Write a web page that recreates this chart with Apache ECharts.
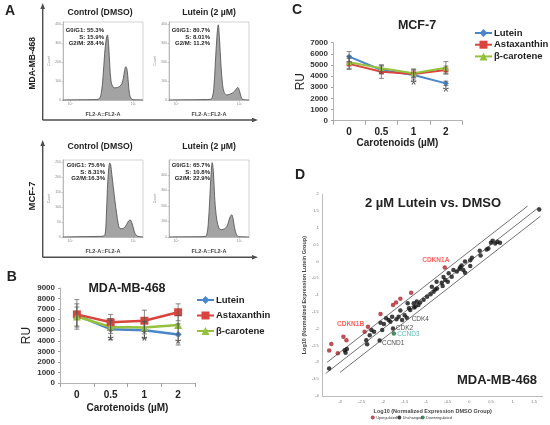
<!DOCTYPE html>
<html>
<head>
<meta charset="utf-8">
<script src="https://cdn.jsdelivr.net/npm/echarts@6/dist/echarts.min.js"></script>
<style>
  html, body { margin: 0; padding: 0; background: #fff; }
  #main { width: 550px; height: 425px; }
</style>
</head>
<body>
<div id="main"></div>
<script>
/* ---- data ---- */
var doses = ['0', '0.5', '1', '2'];
var names = ['Lutein', 'Astaxanthin', 'β-carotene'];

// B  MDA-MB-468
var mdaLutein = [6400, 5100, 5000, 4600];
var mdaAstax = [6500, 5750, 5900, 6700];
var mdaBeta = [6300, 5300, 5250, 5500];
var mdaLuteinErr = [1100, 1000, 800, 1000];
var mdaAstaxErr = [1400, 750, 1000, 800];
var mdaBetaErr = [900, 600, 600, 900];
var mdaSig = [null, 3800, 3800, 3500];

// C  MCF-7
var mcfLutein = [5750, 4550, 4100, 3350];
var mcfAstax = [5100, 4400, 4200, 4550];
var mcfBeta = [5250, 4700, 4250, 4750];
var mcfLuteinErr = [450, 350, 450, 200];
var mcfAstaxErr = [500, 600, 350, 350];
var mcfBetaErr = [550, 300, 400, 550];
var mcfSig = [null, null, 3100, 2400];

// A  cell cycle histograms (channel, count)
var mdaCtrlCh = [0, 20, 40, 44, 46, 48, 50, 52, 54, 55.5, 57, 58.5, 60, 62, 65, 68, 71, 73.5, 75.5, 77, 78.5, 80, 81.5, 83, 85, 88, 100];
var mdaCtrlCount = [0, 1, 2, 4, 10, 40, 120, 240, 320, 342, 290, 180, 100, 72, 64, 66, 72, 85, 115, 155, 175, 160, 100, 35, 8, 2, 0];
var mdaLutCh = [0, 20, 45, 52, 54, 56, 58, 60, 61.6, 63, 65, 67, 69, 72, 76, 79, 82, 84, 86, 88, 90, 92, 100];
var mdaLutCount = [0, 1, 2, 4, 12, 60, 200, 340, 395, 330, 180, 80, 40, 27, 30, 36, 46, 58, 66, 50, 18, 4, 0];
var mcfCtrlCh = [0, 20, 45, 50, 52.5, 54, 55.5, 57, 58.5, 59.6, 61, 63, 65, 67, 69, 71.3, 74, 77, 79.5, 82, 84, 86, 88, 90, 93, 100];
var mcfCtrlCount = [0, 1, 2, 3, 8, 60, 160, 225, 248, 242, 210, 165, 120, 80, 45, 28, 28, 32, 42, 54, 57, 48, 30, 12, 3, 0];
var mcfLutCh = [0, 20, 40, 45, 47, 49, 51, 52.5, 54, 55.5, 57, 59, 61, 63.7, 66, 69, 72, 74, 76, 78.4, 80, 82, 84.5, 87, 90, 100];
var mcfLutCount = [0, 1, 2, 4, 10, 80, 250, 400, 479, 420, 260, 140, 80, 50, 48, 52, 65, 90, 125, 143, 120, 60, 12, 3, 1, 0];

var mdaCtrlStats = ['G0/G1: 55.3%', 'S: 15.9%', 'G2/M: 28.4%'];
var mdaLutStats = ['G0/G1: 80.7%', 'S: 8.01%', 'G2/M: 11.2%'];
var mcfCtrlStats = ['G0/G1: 75.6%', 'S: 8.31%', 'G2/M:16.3%'];
var mcfLutStats = ['G0/G1: 65.7%', 'S: 10.8%', 'G2/M: 22.9%'];

// D  scatter, log10 expression (DMSO, Lutein)
var upregulated = [[-3.25, -2.65], [-3.2, -2.45], [-3.05, -2.73], [-2.92, -2.24], [-2.85, -2.34],
  [-2.35, -1.94], [-2.06, -1.56], [-1.77, -1.29], [-1.7, -1.22], [-1.6, -1.11], [-1.35, -0.93]];
var upLabeled = [['CDKN1A', -0.57, -0.18], ['CDKN1B', -2.43, -2.09]];
var unchanged = [[-3.25, -3.18], [-2.89, -2.64], [-2.87, -2.71], [-2.84, -2.6], [-2.39, -2.34],
  [-2.37, -2.46], [-2.31, -2.19], [-2.27, -2.04], [-2.21, -2.09], [-2.06, -1.82], [-1.98, -1.86],
  [-2.02, -2.04], [-1.93, -1.69], [-1.87, -1.74], [-1.83, -1.79], [-1.79, -1.64], [-1.69, -1.72],
  [-1.64, -1.64], [-1.56, -1.74], [-1.6, -1.46], [-1.5, -1.6], [-1.43, -1.24], [-1.4, -1.39],
  [-1.37, -1.44], [-1.29, -1.24], [-1.22, -1.19], [-1.14, -1.22], [-1.28, -1.37], [-1.18, -1.29],
  [-1.25, -1.34], [-1.06, -1.14], [-0.98, -1.05], [-0.9, -0.97], [-0.83, -0.9], [-0.79, -0.83],
  [-0.87, -0.75], [-0.75, -0.8], [-0.76, -0.6], [-0.64, -0.63], [-0.62, -0.73], [-0.6, -0.46],
  [-0.56, -0.55], [-0.5, -0.6], [-0.48, -0.35], [-0.41, -0.45], [-0.37, -0.25], [-0.29, -0.3],
  [-0.23, -0.22], [-0.21, -0.17], [-0.18, -0.12], [-0.14, -0.25], [-0.1, -0.33], [-0.1, 0.0],
  [0.02, -0.13], [0.02, 0.04], [0.06, 0.11], [0.24, 0.32], [0.26, 0.18], [0.4, 0.36], [0.44, 0.39],
  [0.5, 0.56], [0.54, 0.62], [0.6, 0.54], [0.65, 0.59], [0.71, 0.56], [1.62, 1.55]];
var unchangedLabeled = [['CDK4', -1.45, -1.67], ['CDK2', -1.77, -1.99], ['CCND1', -2.08, -2.35]];
var downLabeled = [['CCND3', -1.75, -2.14]];
// fold-change guide lines: offset (log10 2) and x extent
var guideOffsets = [0.3, 0, -0.3];
var guideStart = [-3.3, -3.33, -3.0];
var guideEnd = [1.35, 1.62, 1.65];

/* ---- chart ---- */
var FONT = '"Liberation Sans", Arial, sans-serif';
var cLutein = '#4a86c9', cAstax = '#d9453d', cBeta = '#94c23d';
var chart = echarts.init(document.getElementById('main'));

var histGrids = [
  { left: 63, top: 22, width: 80, height: 78 },
  { left: 169, top: 22, width: 80, height: 78 },
  { left: 63, top: 160, width: 80, height: 77 },
  { left: 169, top: 160, width: 80, height: 77 }
];
var histMax = [410, 410, 258, 496];
var histInterval = [100, 100, 50, 100];
var histCh = [mdaCtrlCh, mdaLutCh, mcfCtrlCh, mcfLutCh];
var histCount = [mdaCtrlCount, mdaLutCount, mcfCtrlCount, mcfLutCount];

var grids = histGrids.map(function (g) {
  return Object.assign({ show: true, borderColor: '#b5b5b5', borderWidth: 0.6 }, g);
});
grids.push({ left: 60, top: 288, width: 135, height: 95 });   // B
grids.push({ left: 333, top: 42.7, width: 129, height: 78 }); // C
grids.push({ left: 322.7, top: 194.3, width: 220, height: 201.7 }); // D

var xAxes = [], yAxes = [], series = [];
var plain = function (v) { return String(v); };

histGrids.forEach(function (g, i) {
  xAxes.push({
    type: 'value', gridIndex: i, min: 0, max: 100,
    name: 'FL2-A::FL2-A', nameLocation: 'middle', nameGap: 11,
    nameTextStyle: { fontSize: 5.5, fontWeight: 'bold', color: '#444' },
    axisLine: { lineStyle: { color: '#999', width: 0.6 } },
    axisTick: { customValues: [9, 88], length: 1.5, lineStyle: { color: '#999', width: 0.5 } },
    axisLabel: { customValues: [9, 88], fontSize: 3.5, color: '#888', margin: 2,
      formatter: function (v) { return v < 50 ? '10²' : '10³'; } },
    splitLine: { show: false }
  });
  yAxes.push({
    type: 'value', gridIndex: i, min: 0, max: histMax[i], interval: histInterval[i],
    name: 'Count', nameLocation: 'middle', nameGap: 8,
    nameTextStyle: { fontSize: 3.5, color: '#888' },
    axisLine: { show: true, lineStyle: { color: '#999', width: 0.6 } },
    axisTick: { show: true, length: 1.5, lineStyle: { color: '#999', width: 0.5 } },
    axisLabel: { fontSize: 3.5, color: '#888', margin: 2, showMaxLabel: false, formatter: plain },
    splitLine: { show: false }
  });
  series.push({
    type: 'line', xAxisIndex: i, yAxisIndex: i, smooth: 0.35, symbol: 'none',
    data: histCh[i].map(function (c, k) { return [c, histCount[i][k]]; }),
    lineStyle: { color: '#4a4a4a', width: 0.8 },
    areaStyle: { color: '#a3a3a3', opacity: 1 }
  });
});

function lineAxes(gi, yMax, nameGapX, nameGapY) {
  xAxes.push({
    type: 'category', gridIndex: gi, data: doses, boundaryGap: true,
    name: 'Carotenoids (µM)', nameLocation: 'middle', nameGap: nameGapX,
    nameTextStyle: { fontSize: 10, fontWeight: 'bold', color: '#222' },
    axisLine: { lineStyle: { color: '#a0a0a0', width: 0.8 } },
    axisTick: { show: true, length: 4, lineStyle: { color: '#a0a0a0' } },
    axisLabel: { fontSize: 10, fontWeight: 'bold', color: '#222', margin: 7 }
  });
  yAxes.push({
    type: 'value', gridIndex: gi, min: 0, max: yMax, interval: 1000,
    name: 'RU', nameLocation: 'middle', nameGap: nameGapY,
    nameTextStyle: { fontSize: 12, color: '#222' },
    axisLine: { show: true, lineStyle: { color: '#a0a0a0', width: 0.8 } },
    axisTick: { show: true, length: 2, lineStyle: { color: '#a0a0a0' } },
    axisLabel: { fontSize: 8, fontWeight: 'bold', color: '#333', margin: 5, formatter: plain },
    splitLine: { show: false }
  });
}
lineAxes(4, 9000, 20, 27);
lineAxes(5, 7000, 18, 26);

function errorSeries(ai, vals, errs) {
  return {
    type: 'custom', xAxisIndex: ai, yAxisIndex: ai, z: 4, silent: true,
    data: vals.map(function (v, k) { return [k, v - errs[k], v + errs[k]]; }),
    encode: { x: 0, y: [1, 2] },
    renderItem: function (params, api) {
      var lo = api.coord([api.value(0), api.value(1)]);
      var hi = api.coord([api.value(0), api.value(2)]);
      var w = 2.5, st = { stroke: '#555', lineWidth: 0.7 };
      return { type: 'group', children: [
        { type: 'line', shape: { x1: hi[0], y1: hi[1], x2: lo[0], y2: lo[1] }, style: st },
        { type: 'line', shape: { x1: hi[0] - w, y1: hi[1], x2: hi[0] + w, y2: hi[1] }, style: st },
        { type: 'line', shape: { x1: lo[0] - w, y1: lo[1], x2: lo[0] + w, y2: lo[1] }, style: st }
      ] };
    }
  };
}

function sigSeries(ai, sig) {
  var d = [];
  sig.forEach(function (v, k) { if (v != null) d.push([k, v]); });
  return {
    type: 'scatter', xAxisIndex: ai, yAxisIndex: ai, symbolSize: 1, silent: true, z: 5,
    itemStyle: { color: 'rgba(0,0,0,0)' }, data: d,
    label: { show: true, position: 'inside', formatter: '*', fontSize: 16, color: '#333' }
  };
}

function lineSeries(ai, name, vals, color, symbol, size, width) {
  return {
    type: 'line', name: name, xAxisIndex: ai, yAxisIndex: ai, data: vals,
    symbol: symbol, symbolSize: size, z: 3,
    lineStyle: { color: color, width: width }, itemStyle: { color: color }
  };
}

series.push(lineSeries(4, names[0], mdaLutein, cLutein, 'diamond', 7, 2.5));
series.push(lineSeries(4, names[1], mdaAstax, cAstax, 'rect', 8, 2.5));
series.push(lineSeries(4, names[2], mdaBeta, cBeta, 'triangle', 8, 2.5));
series.push(errorSeries(4, mdaLutein, mdaLuteinErr));
series.push(errorSeries(4, mdaAstax, mdaAstaxErr));
series.push(errorSeries(4, mdaBeta, mdaBetaErr));
series.push(sigSeries(4, mdaSig));

series.push(lineSeries(5, names[0], mcfLutein, cLutein, 'diamond', 6, 2));
series.push(lineSeries(5, names[1], mcfAstax, cAstax, 'rect', 5, 2));
series.push(lineSeries(5, names[2], mcfBeta, cBeta, 'triangle', 6, 2));
series.push(errorSeries(5, mcfLutein, mcfLuteinErr));
series.push(errorSeries(5, mcfAstax, mcfAstaxErr));
series.push(errorSeries(5, mcfBeta, mcfBetaErr));
series.push(sigSeries(5, mcfSig));

// D axes
xAxes.push({
  type: 'value', gridIndex: 6, min: -3.4, max: 1.7,
  name: 'Log10 (Normalized Expression DMSO Group)', nameLocation: 'middle', nameGap: 12,
  nameTextStyle: { fontSize: 5.5, fontWeight: 'bold', color: '#444' },
  axisLine: { onZero: false, lineStyle: { color: '#aaa', width: 0.8 } },
  axisTick: { show: false },
  axisLabel: { customValues: [-3, -2.5, -2, -1.5, -1, -0.5, 0, 0.5, 1, 1.5], fontSize: 4, color: '#777', margin: 4 },
  splitLine: { show: false }
});
yAxes.push({
  type: 'value', gridIndex: 6, min: -4, max: 2, interval: 0.5,
  name: 'Log10 (Normalized Expression Lutein Group)', nameLocation: 'middle', nameGap: 14,
  nameTextStyle: { fontSize: 5.5, fontWeight: 'bold', color: '#444' },
  axisLine: { show: true, onZero: false, lineStyle: { color: '#aaa', width: 0.8 } },
  axisTick: { show: false },
  axisLabel: { fontSize: 4, color: '#777', margin: 4 },
  splitLine: { show: false }
});

guideOffsets.forEach(function (off, k) {
  series.push({
    type: 'line', xAxisIndex: 6, yAxisIndex: 6, symbol: 'none', silent: true,
    data: [[guideStart[k], guideStart[k] + off], [guideEnd[k], guideEnd[k] + off]],
    lineStyle: { color: '#333', width: 0.7 }
  });
});

var labelOffsets = {
  CDKN1A: [-9, -7], CDKN1B: [-14, -8], CDK4: [13.5, 1.7], CDK2: [11.5, 0],
  CCND1: [13.5, 2.2], CCND3: [14.5, 0.6]
};
function labeledData(list, color, weight) {
  return list.map(function (g) {
    return {
      name: g[0], value: [g[1], g[2]],
      label: { show: true, formatter: g[0], position: 'inside', offset: labelOffsets[g[0]],
        fontSize: 6.5, fontWeight: weight, color: color }
    };
  });
}
series.push({
  type: 'scatter', name: 'Unchanged', xAxisIndex: 6, yAxisIndex: 6, symbolSize: 4.5,
  itemStyle: { color: '#111' },
  data: unchanged.concat(labeledData(unchangedLabeled, '#222', 'normal'))
});
series.push({
  type: 'scatter', name: 'Upregulated', xAxisIndex: 6, yAxisIndex: 6, symbolSize: 4.5,
  itemStyle: { color: '#b0232b' },
  data: upregulated.concat(labeledData(upLabeled, '#ff3535', 'bold'))
});
series.push({
  type: 'scatter', name: 'Downregulated', xAxisIndex: 6, yAxisIndex: 6, symbolSize: 4.5,
  itemStyle: { color: '#1c6b3d' },
  data: labeledData(downLabeled, '#2aa6a4', 'normal')
});

function txt(s, x, y, size, weight, opt) {
  return Object.assign({
    type: 'text', x: x, y: y, silent: true,
    style: Object.assign({ text: s, fontSize: size, fontWeight: weight, fontFamily: FONT,
      fill: '#222', textAlign: 'center', textVerticalAlign: 'middle' }, (opt && opt.style) || {})
  }, opt && opt.rotation ? { rotation: opt.rotation } : {});
}
function stats(lines, x, y) {
  return txt(lines.join('\n'), x, y, 6, 'bold',
    { style: { textAlign: 'right', textVerticalAlign: 'top', lineHeight: 6.7 } });
}
function seg(x1, y1, x2, y2) {
  return { type: 'line', silent: true, shape: { x1: x1, y1: y1, x2: x2, y2: y2 },
    style: { stroke: '#4d4d4d', lineWidth: 1.4 } };
}
function head(pts) {
  return { type: 'polygon', silent: true, shape: { points: pts }, style: { fill: '#4d4d4d' } };
}

var graphics = [
  txt('A', 10, 11, 14, 'bold'), txt('B', 11.7, 277, 14, 'bold'),
  txt('C', 297, 10, 14, 'bold'), txt('D', 300, 175, 14, 'bold'),
  txt('MDA-MB-468', 32.3, 63.3, 8.5, 'bold', { rotation: Math.PI / 2 }),
  txt('MCF-7', 32.3, 196, 9.5, 'bold', { rotation: Math.PI / 2 }),
  txt('Control (DMSO)', 100, 13, 8.7, 'bold'), txt('Lutein (2 µM)', 209, 13, 8.7, 'bold'),
  txt('Control (DMSO)', 100, 147, 8.7, 'bold'), txt('Lutein (2 µM)', 209, 147, 8.7, 'bold'),
  stats(mdaCtrlStats, 104, 27), stats(mdaLutStats, 210, 27),
  stats(mcfCtrlStats, 105, 162), stats(mcfLutStats, 210, 162),
  seg(42.7, 120, 42.7, 8), head([[42.7, 3], [40.4, 9], [45, 9]]),
  seg(42.7, 120, 253, 120), head([[258, 120], [252, 117.7], [252, 122.3]]),
  seg(42.7, 257.3, 42.7, 145), head([[42.7, 140], [40.4, 146], [45, 146]]),
  seg(42.7, 257.3, 253, 257.3), head([[258, 257.3], [252, 255], [252, 259.6]]),
  txt('MDA-MB-468', 127, 288.5, 12.5, 'bold'),
  txt('MCF-7', 417, 26, 12.5, 'bold'),
  txt('2 µM Lutein vs. DMSO', 433, 203, 13, 'bold'),
  txt('MDA-MB-468', 497, 380, 13, 'bold')
];

var smallLegend = function (name, left) {
  return { data: [name], left: left, top: 415.5, itemWidth: 4, itemHeight: 4, itemGap: 2, padding: 0,
    icon: 'circle', textStyle: { fontSize: 3.8, color: '#333', padding: [0, 0, 0, -3.5] }, selectedMode: false };
};

chart.setOption({
  animation: false,
  textStyle: { fontFamily: FONT },
  grid: grids,
  xAxis: xAxes,
  yAxis: yAxes,
  legend: [
    { data: names, orient: 'vertical', left: 191, top: 290, itemWidth: 17, itemHeight: 10, itemGap: 5.5,
      textStyle: { fontSize: 9.5, fontWeight: 'bold', color: '#222', padding: [0, 0, 0, -3] }, selectedMode: false },
    { data: names, orient: 'vertical', left: 469, top: 23, itemWidth: 17, itemHeight: 10, itemGap: 1.7,
      textStyle: { fontSize: 9.5, fontWeight: 'bold', color: '#222', padding: [0, 0, 0, -3] }, selectedMode: false },
    smallLegend('Upregulated', 370.7),
    smallLegend('Unchanged', 397.3),
    smallLegend('Downregulated', 420.7)
  ],
  graphic: graphics,
  series: series
});
</script>
</body>
</html>
